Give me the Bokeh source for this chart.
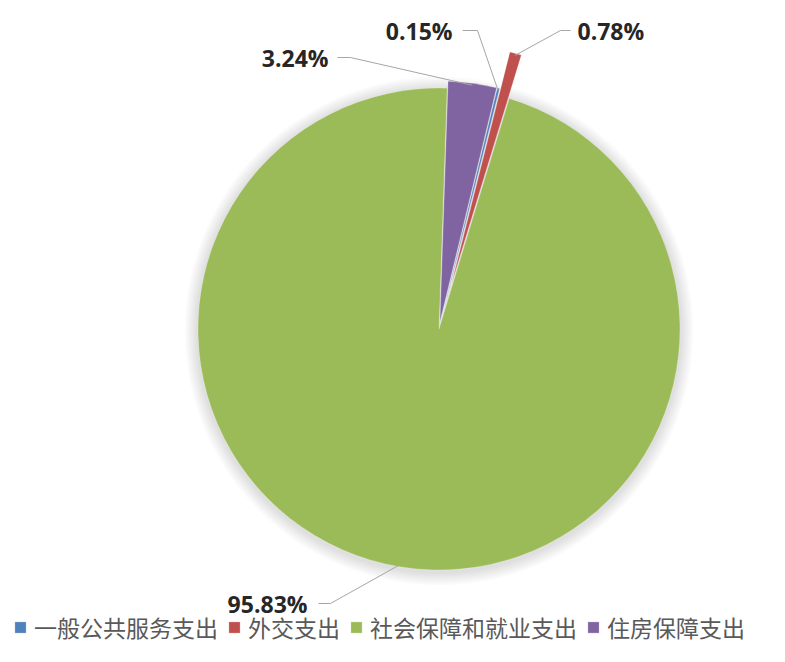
import math
from bokeh.plotting import figure
from bokeh.models import Range1d, Legend, LegendItem
from bokeh.core.properties import value
from bokeh.embed import file_html
from bokeh.resources import INLINE

# ---- data ----
categories = ["一般公共服务支出", "外交支出", "社会保障和就业支出", "住房保障支出"]
shares = [0.15, 0.78, 95.83, 3.24]
colors = ["#4F81BD", "#C0504D", "#9BBB59", "#8064A2"]
explode = [7, 45, 0, 7]          # px offsets of exploded slices
first_angle = 13.6               # degrees clockwise from 12 o'clock

W, H = 769, 646
p = figure(width=W, height=H, output_backend="svg", toolbar_location=None,
           x_range=Range1d(0, W), y_range=Range1d(662 - H, 662),
           min_border=0, outline_line_color=None)
p.axis.visible = False
p.grid.visible = False
p.background_fill_color = "white"

def Y(yimg):
    return 662 - yimg

cx, cy, R = 438.5, Y(328.5), 241

# soft shadow
for k in range(8):
    p.circle(x=cx, y=cy - 2, radius=R + 2 + k * 1.6, fill_color="#8c8c8c",
             fill_alpha=0.03, line_color=None)

total = sum(shares)
renderers = []
mids = []
cum = 0.0
for cat, v, col, d in zip(categories, shares, colors, explode):
    a0 = first_angle + 360 * cum / total
    a1 = first_angle + 360 * (cum + v) / total
    cum += v
    mid = math.radians((a0 + a1) / 2)
    ox, oy = cx + d * math.sin(mid), cy + d * math.cos(mid)
    r = p.wedge(x=ox, y=oy, radius=R, start_angle=math.radians(90 - a0),
                end_angle=math.radians(90 - a1), direction="clock",
                fill_color=col, line_color="white", line_width=0.4, line_alpha=0.6)
    renderers.append(r)
    mids.append((mid, ox, oy))

# labels and leader lines (order = categories)
label_pos = [  # (text x, text y, align, elbow x, line end x)
    (452, 30, "right", 477, 462),
    (577, 30, "left", 560, 570),
    (307, 603, "right", 330, 318),
    (328, 57, "right", 350, 337),
]
for (mid, ox, oy), v, (tx, ty, al, ex, ee) in zip(mids, shares, label_pos):
    ax = ox + (R - 2) * math.sin(mid)
    ay = oy + (R - 2) * math.cos(mid)
    p.line(x=[ax, ex, ee], y=[ay, Y(ty), Y(ty)], line_color="#A6A6A6", line_width=1)
    p.text(x=[tx], y=[Y(ty)], text=[f"{v:.2f}%"], text_align=al,
           text_baseline="middle", text_font=value("Open Sans"),
           text_font_style="bold", text_font_size="23px", text_color="#262626")

legend = Legend(items=[LegendItem(label=c, renderers=[r]) for c, r in zip(categories, renderers)],
                orientation="horizontal", location=(13, 2),
                glyph_width=14, glyph_height=14, label_standoff=7, spacing=9,
                padding=0, margin=0, border_line_color=None, background_fill_alpha=0,
                label_text_font="Noto Sans CJK SC", label_text_font_size="23px",
                label_text_color="#595959", label_height=24)
p.add_layout(legend)

open("out.html", "w").write(file_html(p, INLINE))
